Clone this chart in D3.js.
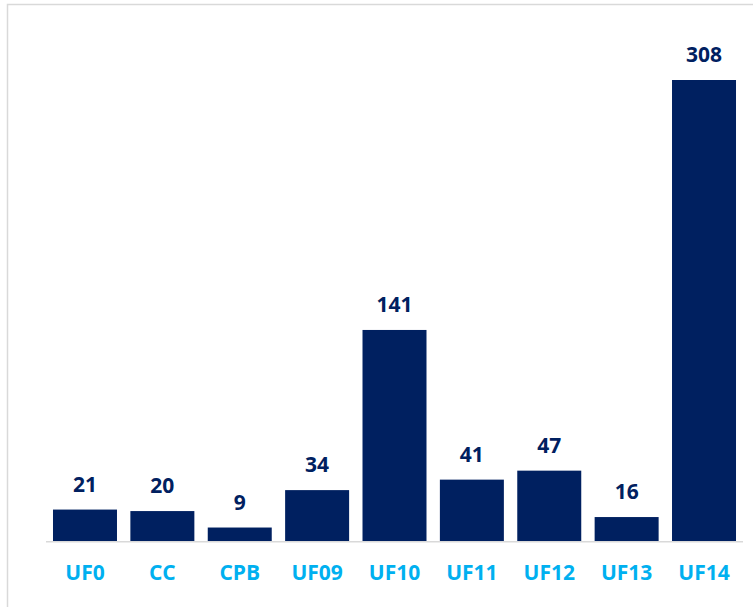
<!DOCTYPE html>
<html><head><meta charset="utf-8">
<script src="https://cdn.jsdelivr.net/npm/d3@7"></script>
<style>html,body{margin:0;padding:0;background:#fff;overflow:hidden}</style>
</head><body>
<svg id="c" width="753" height="607"></svg>
<script>
const categories = ["UF0","CC","CPB","UF09","UF10","UF11","UF12","UF13","UF14"];
const values = [21,20,9,34,141,41,47,16,308];

const svg = d3.select("#c");
svg.append("rect").attr("x",7.5).attr("y",4.5).attr("width",800).attr("height",700)
  .attr("fill","#fff").attr("stroke","#d9d9d9").attr("stroke-width",1.5);

const x = d3.scaleBand().domain(categories).range([46.3,742.7]).paddingInner(0.173).paddingOuter(0.0865);
const y = d3.scaleLinear().domain([0,308]).range([541,80]);

svg.append("g").selectAll("rect").data(values).join("rect")
  .attr("x",(d,i)=>x(categories[i])).attr("width",x.bandwidth())
  .attr("y",d=>y(d)).attr("height",d=>y(0)-y(d)).attr("fill","#002060");

svg.append("line").attr("x1",46).attr("x2",743).attr("y1",541.75).attr("y2",541.75)
  .attr("stroke","#d9d9d9").attr("stroke-width",1.5);

svg.append("g").selectAll("text").data(values).join("text")
  .attr("x",(d,i)=>x(categories[i])+x.bandwidth()/2).attr("y",d=>y(d)-18)
  .attr("text-anchor","middle").attr("font-family","'Open Sans'").attr("font-weight",700)
  .attr("font-size",21).attr("fill","#002060").text(d=>d);

const xa = svg.append("g").attr("transform","translate(0,541)")
  .call(d3.axisBottom(x).tickSize(0).tickPadding(0));
xa.select(".domain").remove();
xa.selectAll("text").attr("y",39).attr("dy",0).attr("font-family","'Open Sans'")
  .attr("font-weight",700).attr("font-size",21).attr("fill","#00B0F0");
</script>
</body></html>
